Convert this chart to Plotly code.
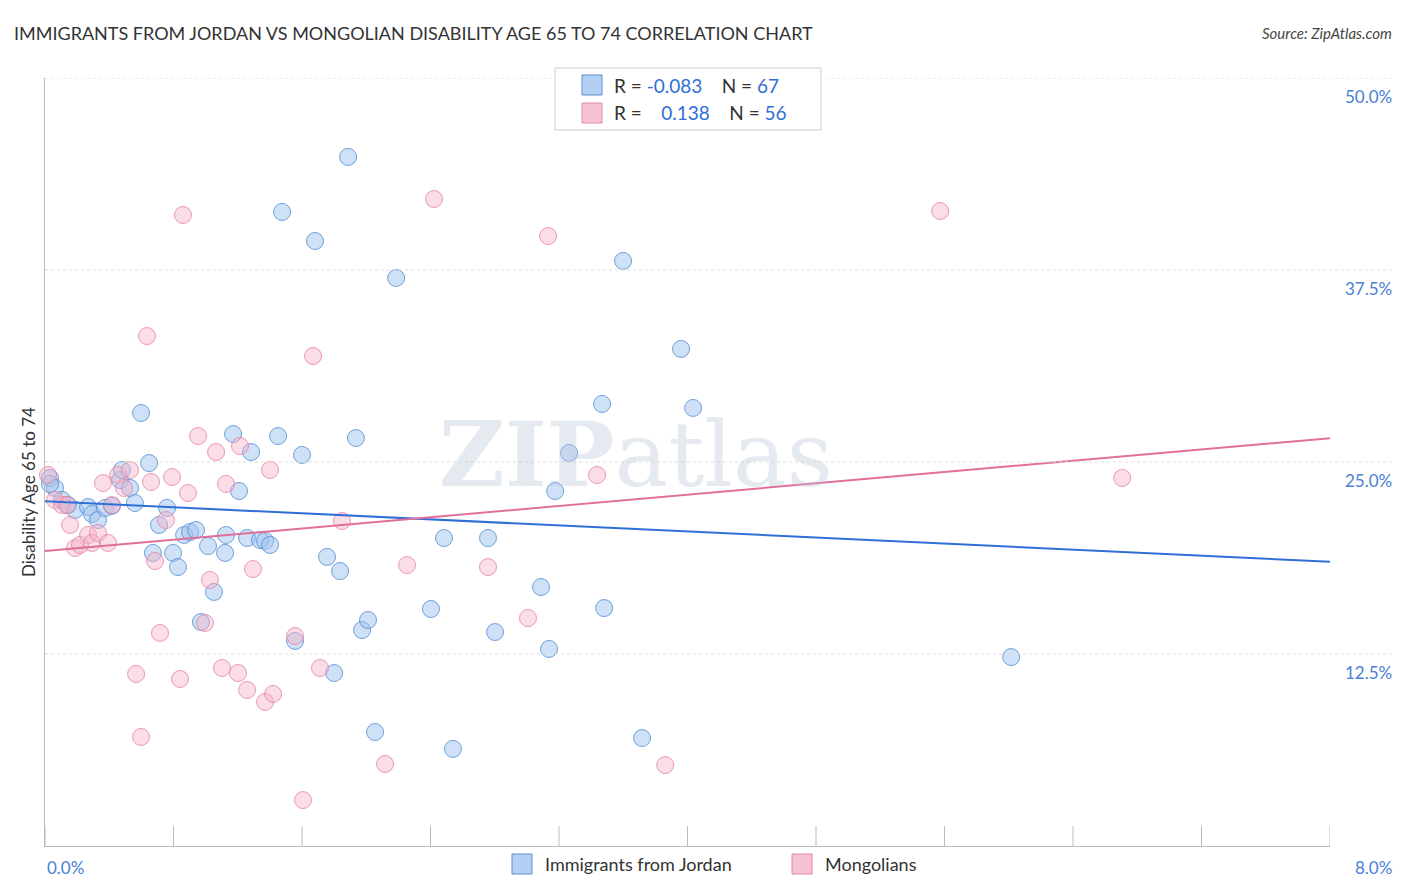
import plotly.graph_objects as go

X0, PX = 45, 160.6
def cx(p): return (p - X0) / PX
def cy(p): return (846 - p) / 15.36

blue_px = [50,55,62,68,75,88,92,98,105,112,120,122,130,135,141,149,153,159,167,173,178,184,190,196,201,208,214,225,226,233,239,247,251,260,265,270,278,282,295,302,315,327,334,340,348,356,362,368,375,396,431,444,453,488,495,541,549,555,569,602,604,623,642,681,693,1011,50]
blue_py = [478,488,500,505,510,507,514,520,508,506,480,470,488,503,413,463,553,525,508,553,567,535,532,530,622,546,592,553,535,434,491,538,452,540,541,545,436,212,641,455,241,557,673,571,157,438,630,620,732,278,609,538,749,538,632,587,649,491,453,404,608,261,738,349,408,657,484]
pink_px = [48,55,62,70,75,80,88,92,98,103,108,112,118,124,130,136,141,147,151,155,160,166,172,180,183,188,198,205,210,216,222,226,238,240,247,253,265,270,273,295,303,313,320,342,385,407,434,488,528,548,597,665,940,1122,67]
pink_py = [475,500,505,525,548,545,535,543,533,483,543,505,475,488,470,674,737,336,482,561,633,520,477,679,215,493,436,623,580,452,668,484,673,446,690,569,702,470,694,636,800,356,668,521,764,565,199,567,618,236,475,765,211,478,505]
blue_x = [round(cx(p), 3) for p in blue_px]; blue_y = [round(cy(p), 2) for p in blue_py]
pink_x = [round(cx(p), 3) for p in pink_px]; pink_y = [round(cy(p), 2) for p in pink_py]
blue_trend = [22.45, 18.5]
pink_trend = [19.2, 26.55]

fig = go.Figure()
fig.add_trace(go.Scatter(x=blue_x, y=blue_y, mode="markers", cliponaxis=False,
    marker=dict(size=17, color="rgba(160,196,240,0.5)", line=dict(color="rgba(80,140,210,0.8)", width=1))))
fig.add_trace(go.Scatter(x=pink_x, y=pink_y, mode="markers", cliponaxis=False,
    marker=dict(size=17, color="rgba(245,180,200,0.45)", line=dict(color="rgba(230,130,165,0.8)", width=1))))
fig.add_trace(go.Scatter(x=[0, 8], y=blue_trend, mode="lines", line=dict(color="#2f6fd6", width=2)))
fig.add_trace(go.Scatter(x=[0, 8], y=pink_trend, mode="lines", line=dict(color="#e0709a", width=2)))

shapes = []
for t in [0.8*i for i in range(11)]:
    shapes.append(dict(type="line", xref="x", yref="paper", x0=t, x1=t, y0=0, y1=20/768, line=dict(color="#bbb", width=1)))
for v in [12.5, 25, 37.5, 50]:
    shapes.append(dict(type="line", xref="paper", yref="y", x0=0, x1=1.05, y0=v, y1=v, line=dict(color="#ddd", width=1, dash="dot")))
ann = []
for v in [12.5, 25, 37.5, 50]:
    ann.append(dict(x=1.0495, xref="paper", y=v, yref="y", yshift=-18, text=f"{v:.1f}%", showarrow=False, xanchor="right", yanchor="middle", font=dict(color="#4a7fd4", size=17)))
ann += [
    dict(x=0, xref="paper", y=-0.012, yref="paper", text="0.0%", showarrow=False, xanchor="left", yanchor="top", font=dict(color="#4a7fd4", size=17)),
    dict(x=1.0495, xref="paper", y=-0.012, yref="paper", text="8.0%", showarrow=False, xanchor="right", yanchor="top", font=dict(color="#4a7fd4", size=17)),
    dict(x=0, xref="paper", xshift=-17, y=0.5, yref="paper", yshift=-30, text="Disability Age 65 to 74", textangle=-90, showarrow=False, xanchor="center", yanchor="middle", font=dict(color="#333", size=17)),
    dict(x=0.46, xref="paper", y=0.5, yref="paper", yshift=8, text="<b>ZIP</b>atlas", showarrow=False, yanchor="middle", font=dict(color="rgba(180,195,215,0.35)", size=90, family="DejaVu Serif")),
]
ann += [
    dict(x=(612-45)/1285, xref="paper", y=(846-85)/768, yref="paper", text="R = <span style='color:#2f6fd6'>-0.083</span>    N = <span style='color:#2f6fd6'>67</span>", showarrow=False, xanchor="left", yanchor="middle", font=dict(size=19, color="#333")),
    dict(x=(612-45)/1285, xref="paper", y=(846-113)/768, yref="paper", text="R = <span style='color:#2f6fd6'>   0.138</span>    N = <span style='color:#2f6fd6'>56</span>", showarrow=False, xanchor="left", yanchor="middle", font=dict(size=19, color="#333")),
    dict(x=(543-45)/1285, xref="paper", y=(846-864)/768, yref="paper", text="Immigrants from Jordan", showarrow=False, xanchor="left", yanchor="middle", font=dict(size=18, color="#333")),
    dict(x=(823-45)/1285, xref="paper", y=(846-864)/768, yref="paper", text="Mongolians", showarrow=False, xanchor="left", yanchor="middle", font=dict(size=18, color="#333")),
]
def box(x0, y0, fill, line):
    return dict(type="rect", xref="paper", yref="paper", x0=(x0-45)/1285, x1=(x0+20-45)/1285,
                y0=(846-y0-20)/768, y1=(846-y0)/768, fillcolor=fill, line=dict(color=line, width=1))
shapes += [
    dict(type="rect", xref="paper", yref="paper", x0=(555-45)/1285, x1=(821-45)/1285, y0=(846-130)/768, y1=(846-68)/768, fillcolor="white", line=dict(color="#ccc", width=1)),
    box(582, 75, "rgba(160,196,240,0.8)", "#5b8fd0"), box(582, 103, "rgba(245,180,200,0.8)", "#e088a8"),
    box(512, 854, "rgba(160,196,240,0.8)", "#5b8fd0"), box(792, 854, "rgba(245,180,200,0.8)", "#e088a8"),
]
fig.update_layout(width=1390, height=876, margin=dict(l=37, r=68, t=70, b=38),
    plot_bgcolor="white", paper_bgcolor="white", showlegend=False,
    font=dict(family="Lato, Noto Sans, sans-serif"),
    xaxis=dict(range=[0, 8], showgrid=False, zeroline=False, showticklabels=False, showline=True, linecolor="#bbb"),
    yaxis=dict(range=[0, 50], showgrid=False, zeroline=False, showticklabels=False, showline=True, linecolor="#bbb"),
    shapes=shapes, annotations=ann)
fig.add_annotation(x=0, xref="paper", xshift=-33, y=1, yref="paper", yshift=45, text="IMMIGRANTS FROM JORDAN VS MONGOLIAN DISABILITY AGE 65 TO 74 CORRELATION CHART", showarrow=False, xanchor="left", yanchor="middle", font=dict(size=18, color="#333"))
fig.add_annotation(x=1.0495, xref="paper", y=1, yref="paper", yshift=45, text="<i>Source: ZipAtlas.com</i>", showarrow=False, xanchor="right", yanchor="middle", font=dict(size=15, color="#444"))
fig.write_html("out.html")
